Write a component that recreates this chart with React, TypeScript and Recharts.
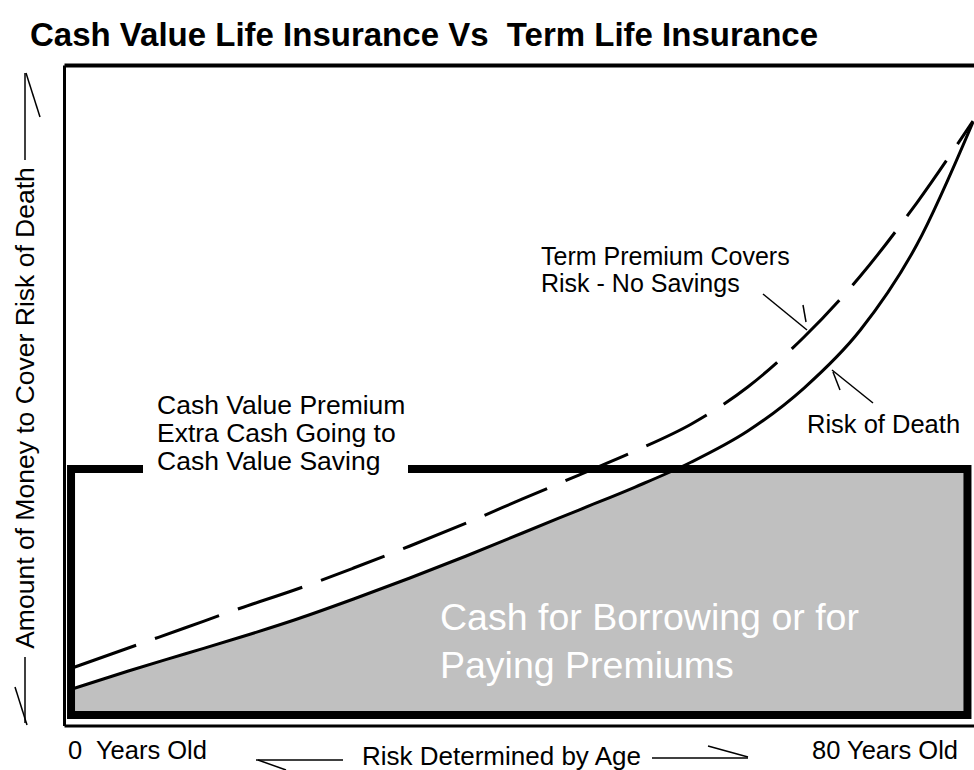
import {
  Area,
  ComposedChart,
  Line,
  ReferenceArea,
  ReferenceLine,
  XAxis,
  YAxis,
} from 'recharts'

// age in years along the x axis
const ages = [0, 5, 10, 15, 20, 25, 30, 35, 40, 45, 50, 55, 60, 65, 70, 75, 80]

// amount of money (arbitrary units, 0..100 of the frame height)
const riskOfDeath = [
  5.6, 8.33, 10.9, 13.47, 16.2, 19.23, 22.41, 25.74, 29.22, 32.7, 36.18, 39.97,
  44.66, 51.17, 59.95, 72.82, 91.45,
]
const termPremium = [
  8.78, 11.81, 14.84, 17.87, 20.74, 23.92, 27.25, 30.73, 34.37, 38.0, 41.64,
  45.72, 51.32, 58.89, 68.13, 79.18, 91.6,
]

// cash value premium level box
const cashBox = { left: -0.09, right: 79.51, bottom: 1.67, top: 38.9 }

const X_DOMAIN: [number, number] = [-0.67, 80.09]
const Y_DOMAIN: [number, number] = [0, 100]

const data = ages.map((age, i) => ({
  age,
  risk: riskOfDeath[i],
  term: termPremium[i],
}))

const FONT = '"Liberation Sans", Arial, Helvetica, sans-serif'

function Annotations() {
  const txt = { fontFamily: FONT, fontSize: 25.5, fill: '#000' }
  const ln = { stroke: '#000', strokeWidth: 1.5 }
  return (
    <svg
      width={974}
      height={770}
      style={{ position: 'absolute', left: 0, top: 0, pointerEvents: 'none' }}
    >
      <text
        x={30}
        y={46}
        fontFamily={FONT}
        fontSize={33}
        fontWeight="bold"
        style={{ whiteSpace: 'pre' }}
      >
        Cash Value Life Insurance Vs  Term Life Insurance
      </text>

      {/* y axis label with arrows */}
      <text
        {...txt}
        fontSize={26.5}
        x={34}
        y={408}
        textAnchor="middle"
        transform="rotate(-90 34 408)"
      >
        Amount of Money to Cover Risk of Death
      </text>
      <line x1={25} y1={73} x2={25} y2={160} {...ln} />
      <line x1={26} y1={73} x2={40} y2={117} {...ln} />
      <line x1={25} y1={657} x2={25} y2={723} {...ln} />
      <line x1={15} y1={687} x2={27} y2={725} {...ln} />

      {/* x axis labels */}
      <text {...txt} x={68} y={759} style={{ whiteSpace: 'pre' }}>
        0  Years Old
      </text>
      <text {...txt} fontSize={26} x={362} y={765}>
        Risk Determined by Age
      </text>
      <text {...txt} x={812} y={759}>
        80 Years Old
      </text>
      <line x1={256} y1={760} x2={343} y2={760} {...ln} />
      <line x1={258} y1={760} x2={286} y2={770} {...ln} />
      <line x1={652} y1={758} x2={748} y2={758} {...ln} />
      <line x1={708} y1={746} x2={748} y2={757} {...ln} />

      {/* cash value premium label */}
      <rect x={143} y={388} width={265} height={90} fill="#fff" />
      <text {...txt} fontSize={26.5} x={157} y={414}>
        Cash Value Premium
      </text>
      <text {...txt} fontSize={26.5} x={157} y={442}>
        Extra Cash Going to
      </text>
      <text {...txt} fontSize={26.5} x={157} y={470}>
        Cash Value Saving
      </text>

      {/* term premium label */}
      <text {...txt} fontSize={25} x={541} y={265}>
        Term Premium Covers
      </text>
      <text {...txt} fontSize={25} x={541} y={292}>
        Risk - No Savings
      </text>
      <line x1={763} y1={294} x2={807} y2={330} {...ln} />
      <line x1={803} y1={305} x2={806} y2={322} {...ln} />

      {/* risk of death label */}
      <text {...txt} x={807} y={433}>
        Risk of Death
      </text>
      <line x1={873} y1={403} x2={832} y2={370} {...ln} />
      <line x1={833} y1={372} x2={840} y2={390} {...ln} />

      {/* cash in the box */}
      <text x={440} y={630} fontFamily={FONT} fontSize={37.5} fill="#fff">
        Cash for Borrowing or for
      </text>
      <text x={440} y={678} fontFamily={FONT} fontSize={37.5} fill="#fff">
        Paying Premiums
      </text>
    </svg>
  )
}

export default function App() {
  return (
    <div
      style={{
        position: 'absolute',
        left: 0,
        top: 0,
        width: 974,
        height: 770,
        overflow: 'hidden',
        background: '#fff',
      }}
    >
      <ComposedChart
        width={974}
        height={770}
        data={data}
        margin={{ top: 65.5, right: 0, bottom: 44, left: 64.5 }}
      >
        <XAxis
          dataKey="age"
          type="number"
          domain={X_DOMAIN}
          allowDataOverflow
          hide
        />
        <YAxis type="number" domain={Y_DOMAIN} allowDataOverflow hide />

        {/* grey cash area under the risk curve */}
        <Area
          type="monotone"
          dataKey="risk"
          baseValue={cashBox.bottom}
          stroke="none"
          fill="#c0c0c0"
          fillOpacity={1}
          isAnimationActive={false}
          zIndex={100}
        />
        {/* keep the grey inside the box */}
        <ReferenceArea
          x1={X_DOMAIN[0]}
          x2={X_DOMAIN[1]}
          y1={cashBox.top}
          y2={Y_DOMAIN[1]}
          fill="#fff"
          fillOpacity={1}
          stroke="none"
          zIndex={110}
        />
        <ReferenceArea
          x1={cashBox.right}
          x2={X_DOMAIN[1]}
          y1={Y_DOMAIN[0]}
          y2={cashBox.top}
          fill="#fff"
          fillOpacity={1}
          stroke="none"
          zIndex={110}
        />

        <Line
          type="monotone"
          dataKey="term"
          stroke="#000"
          strokeWidth={3}
          strokeDasharray="68 20"
          dot={false}
          isAnimationActive={false}
          zIndex={400}
        />
        <Line
          type="monotone"
          dataKey="risk"
          stroke="#000"
          strokeWidth={3}
          dot={false}
          isAnimationActive={false}
          zIndex={400}
        />

        <ReferenceArea
          x1={cashBox.left}
          x2={cashBox.right}
          y1={cashBox.bottom}
          y2={cashBox.top}
          fill="none"
          stroke="#000"
          strokeWidth={8}
          zIndex={450}
        />

        {/* outer frame: top, left, bottom */}
        <ReferenceLine y={Y_DOMAIN[1]} stroke="#000" strokeWidth={4} zIndex={460} />
        <ReferenceLine y={Y_DOMAIN[0]} stroke="#000" strokeWidth={3} zIndex={460} />
        <ReferenceLine x={X_DOMAIN[0]} stroke="#000" strokeWidth={3} zIndex={460} />
      </ComposedChart>
      <Annotations />
    </div>
  )
}
